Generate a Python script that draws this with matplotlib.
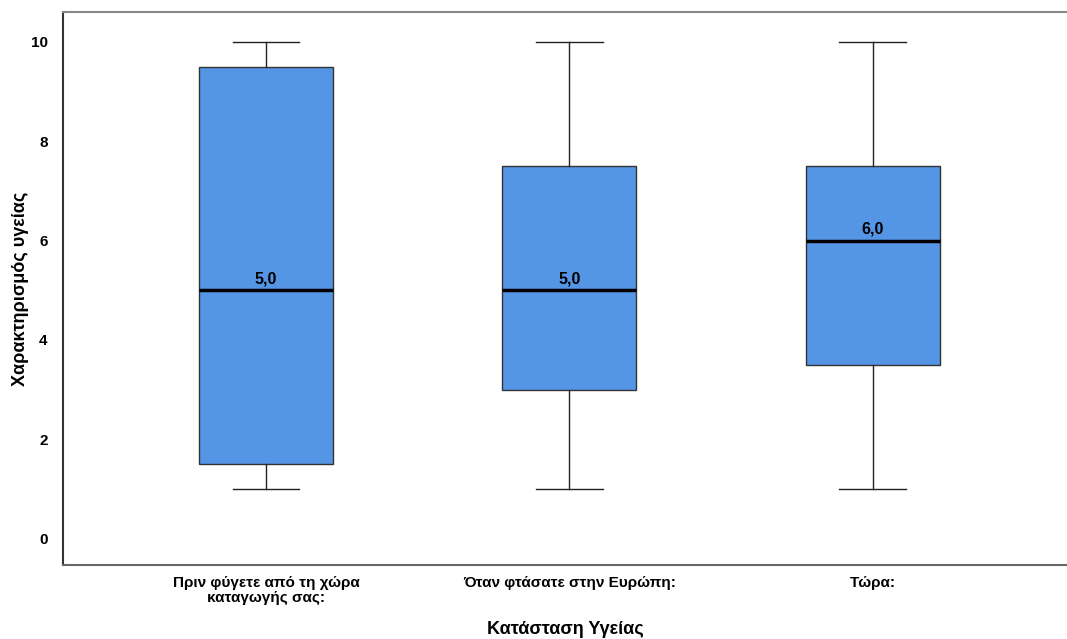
import matplotlib.pyplot as plt
import matplotlib.font_manager as fm

# five-number summaries per health-state question
categories = ['Πριν φύγετε από τη χώρα\nκαταγωγής σας:', 'Όταν φτάσατε στην Ευρώπη:', 'Τώρα:']
whislo = [1.0, 1.0, 1.0]
q1 = [1.5, 3.0, 3.5]
med = [5.0, 5.0, 6.0]
q3 = [9.5, 7.5, 7.5]
whishi = [10.0, 10.0, 10.0]
yticks = [0, 2, 4, 6, 8, 10]

names = {f.name for f in fm.fontManager.ttflist}
fam = 'Liberation Sans Narrow' if 'Liberation Sans Narrow' in names else 'Liberation Sans'
plt.rcParams['font.family'] = [fam, 'DejaVu Sans']

stats = []
for i in range(len(categories)):
    stats.append({'whislo': whislo[i], 'q1': q1[i], 'med': med[i],
                  'q3': q3[i], 'whishi': whishi[i], 'fliers': []})

fig = plt.figure(figsize=(10.67, 6.39), dpi=100)
ax = fig.add_axes([0.059, 0.1158, 0.941, 0.8652])

pos = [1, 2, 3]
ax.bxp(stats, positions=pos, widths=0.442, patch_artist=True, showfliers=False,
       boxprops=dict(facecolor='#5595e5', edgecolor='#333333', linewidth=1.0),
       medianprops=dict(color='black', linewidth=2.5),
       whiskerprops=dict(color='#222222', linewidth=1.0),
       capprops=dict(color='#222222', linewidth=1.0),
       capwidths=0.22)

for p, m in zip(pos, med):
    ax.text(p, m + 0.08, ('%.1f' % m).replace('.', ','), ha='center', va='bottom',
            fontsize=11.5, fontweight='bold')

ax.set_xlim(0.331, 3.64)
ax.set_ylim(-0.53, 10.6)
ax.set_yticks(yticks)
ax.set_yticklabels([str(t) for t in yticks], fontsize=11, fontweight='bold')
ax.set_xticks(pos)
ax.set_xticklabels(categories, fontsize=11, fontweight='bold', linespacing=1.05)
ax.tick_params(length=0, pad=11)
ax.tick_params(axis='x', pad=8)

ax.set_ylabel('Χαρακτηρισμός υγείας', fontsize=13, fontweight='bold')
ax.yaxis.set_label_coords(-0.034, 0.5)
ax.set_xlabel('Κατάσταση Υγείας', fontsize=13, fontweight='bold', labelpad=12)

ax.spines['right'].set_visible(False)
ax.spines['left'].set_color('#333333')
ax.spines['top'].set_color('#888888')
ax.spines['bottom'].set_color('#666666')
for s in ['left', 'top', 'bottom']:
    ax.spines[s].set_linewidth(1.5)

fig.savefig('out.png', dpi=100)
